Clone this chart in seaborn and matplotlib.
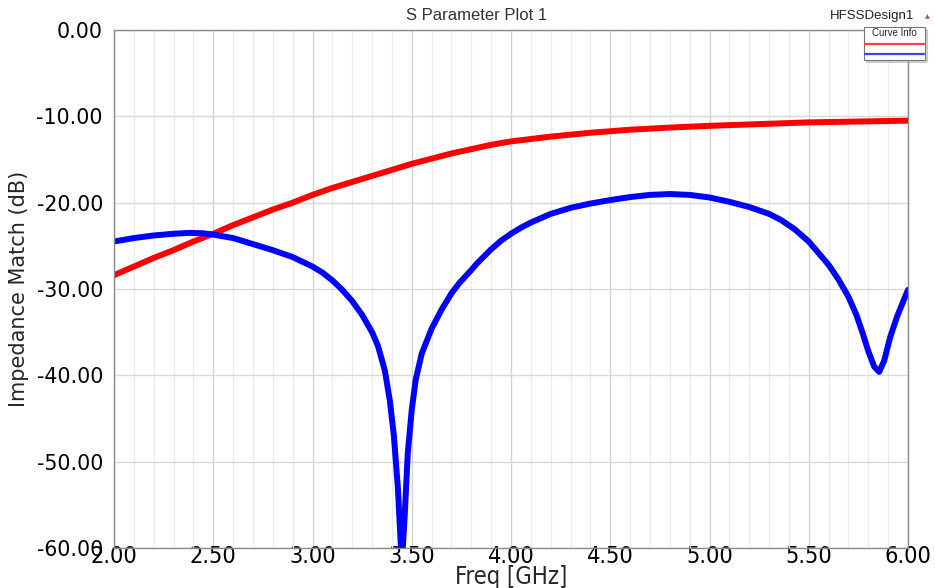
import matplotlib
matplotlib.use("Agg")
import matplotlib.pyplot as plt
from matplotlib.lines import Line2D
from matplotlib.ticker import MultipleLocator, FormatStrFormatter
import seaborn as sns
import pandas as pd

# ---- data ----
freq_red = [2.0, 2.1, 2.2, 2.3, 2.4, 2.5, 2.6, 2.7, 2.8, 2.9, 3.0, 3.1, 3.2, 3.3, 3.4,
            3.5, 3.6, 3.7, 3.8, 3.9, 4.0, 4.2, 4.4, 4.6, 4.8, 5.0, 5.25, 5.5, 5.75, 6.0]
s_red = [-28.4, -27.4, -26.4, -25.5, -24.5, -23.6, -22.6, -21.7, -20.8, -20.0, -19.1, -18.3,
         -17.6, -16.9, -16.2, -15.5, -14.9, -14.3, -13.8, -13.3, -12.9, -12.35, -11.9, -11.55,
         -11.3, -11.1, -10.9, -10.7, -10.6, -10.5]

freq_blue = [2.0, 2.1, 2.2, 2.3, 2.38, 2.45, 2.5, 2.6, 2.7, 2.8, 2.9, 3.0, 3.05, 3.1, 3.15,
             3.2, 3.25, 3.3, 3.33, 3.365, 3.39, 3.41, 3.43, 3.45, 3.465, 3.48, 3.5, 3.52,
             3.55, 3.6, 3.65, 3.7, 3.74, 3.8, 3.83, 3.9, 3.95, 4.0, 4.05, 4.1, 4.2, 4.3, 4.4,
             4.5, 4.6, 4.7, 4.8, 4.9, 5.0, 5.1, 5.2, 5.3, 5.36, 5.43, 5.5, 5.6, 5.65, 5.7,
             5.74, 5.77, 5.8, 5.83, 5.855, 5.88, 5.91, 5.945, 5.975, 6.0]
s_blue = [-24.5, -24.1, -23.8, -23.6, -23.5, -23.55, -23.7, -24.1, -24.8, -25.5, -26.3, -27.4,
          -28.1, -29.0, -30.1, -31.4, -33.0, -35.0, -36.6, -39.5, -43.0, -47.0, -53.0, -62.0,
          -56.0, -49.0, -44.0, -40.5, -37.5, -34.6, -32.4, -30.5, -29.3, -27.8, -27.0, -25.4,
          -24.4, -23.6, -22.9, -22.3, -21.3, -20.6, -20.1, -19.7, -19.35, -19.1, -19.0, -19.1,
          -19.4, -19.9, -20.5, -21.3, -22.0, -23.1, -24.5, -27.2, -28.9, -30.9, -33.0, -35.0,
          -37.2, -39.0, -39.6, -38.3, -35.6, -33.2, -31.5, -30.1]

x_ticks = [2.0, 2.5, 3.0, 3.5, 4.0, 4.5, 5.0, 5.5, 6.0]
y_ticks = [0, -10, -20, -30, -40, -50, -60]

title_text = "S Parameter Plot 1"
design_text = "HFSSDesign1"
xlabel_text = "Freq [GHz]"
ylabel_text = "Impedance Match (dB)"
legend_title = "Curve Info"

df = pd.concat([
    pd.DataFrame({"freq": freq_red, "db": s_red, "curve": "red"}),
    pd.DataFrame({"freq": freq_blue, "db": s_blue, "curve": "blue"}),
])

sns.set_style("white")
plt.rcParams["font.family"] = ["DejaVu Sans"]

fig = plt.figure(figsize=(9.35, 5.88), dpi=100)
ax = fig.add_axes([114 / 935, 1 - 548 / 588, (908 - 114) / 935, (548 - 30) / 588])

sns.lineplot(data=df, x="freq", y="db", hue="curve", palette={"red": "#ff0000", "blue": "#0000ff"},
             hue_order=["red", "blue"], sort=False, estimator=None, linewidth=4.3, ax=ax, legend=False)

ax.set_xlim(2.0, 6.0)
ax.set_ylim(-60, 0)
ax.set_xticks(x_ticks)
ax.xaxis.set_minor_locator(MultipleLocator(0.1))
ax.set_yticks(y_ticks)
ax.xaxis.set_major_formatter(FormatStrFormatter("%.2f"))
ax.yaxis.set_major_formatter(FormatStrFormatter("%.2f"))

ax.grid(False)
ax.grid(True, which="major", axis="x", color="#d2d2d2", linewidth=1.0)
ax.grid(True, which="minor", axis="x", color="#ececec", linewidth=1.0)
ax.grid(True, which="major", axis="y", color="#d8d8d8", linewidth=1.0)
ax.set_axisbelow(True)

for sp in ax.spines.values():
    sp.set_color("#8a8a8a")
    sp.set_linewidth(1.0)
    sp.set_visible(True)

ax.tick_params(axis="y", which="major", direction="out", length=4, width=0.8, color="#8a8a8a",
               labelsize=14.8, pad=4, labelcolor="black")
ax.tick_params(axis="x", which="both", direction="in", length=4, width=0.8, color="#8a8a8a",
               labelsize=16.8, pad=-2, labelcolor="black")
for lab in ax.get_xticklabels():
    lab.set_fontstretch("condensed")

ax.set_xlabel(xlabel_text, fontsize=17, fontstretch="condensed", labelpad=-2)
ax.set_ylabel(ylabel_text, fontsize=15, labelpad=5)

fig.text(477 / 935, 1 - 16 / 588, title_text, ha="center", va="center", fontsize=12,
         family="Liberation Sans", color="#333333")
fig.text(872 / 935, 1 - 16 / 588, design_text, ha="center", va="center", fontsize=9.5,
         family="Liberation Sans", color="#222222")
fig.text(927 / 935, 1 - 17 / 588, "\u25b2", ha="center", va="center", fontsize=4.5, color="#c04040")

handles = [Line2D([], [], color="#ff4040", linewidth=1.6), Line2D([], [], color="#4040ff", linewidth=1.6)]
leg = fig.legend(handles=handles, labels=["", ""], title=legend_title, loc="upper right",
                 bbox_to_anchor=(925 / 935, 1 - 27 / 588), frameon=True, fancybox=False,
                 shadow={"ox": 1.5, "oy": -1.5, "color": "#aaaaaa"},
                 handlelength=7.0, handletextpad=0, borderpad=0.15, labelspacing=0.15,
                 fontsize=6, title_fontsize=7, borderaxespad=0)
leg.get_frame().set_edgecolor("#777777")
leg.get_frame().set_linewidth(0.8)
leg.get_title().set_family("Liberation Sans")

fig.savefig("out.png", dpi=100)
